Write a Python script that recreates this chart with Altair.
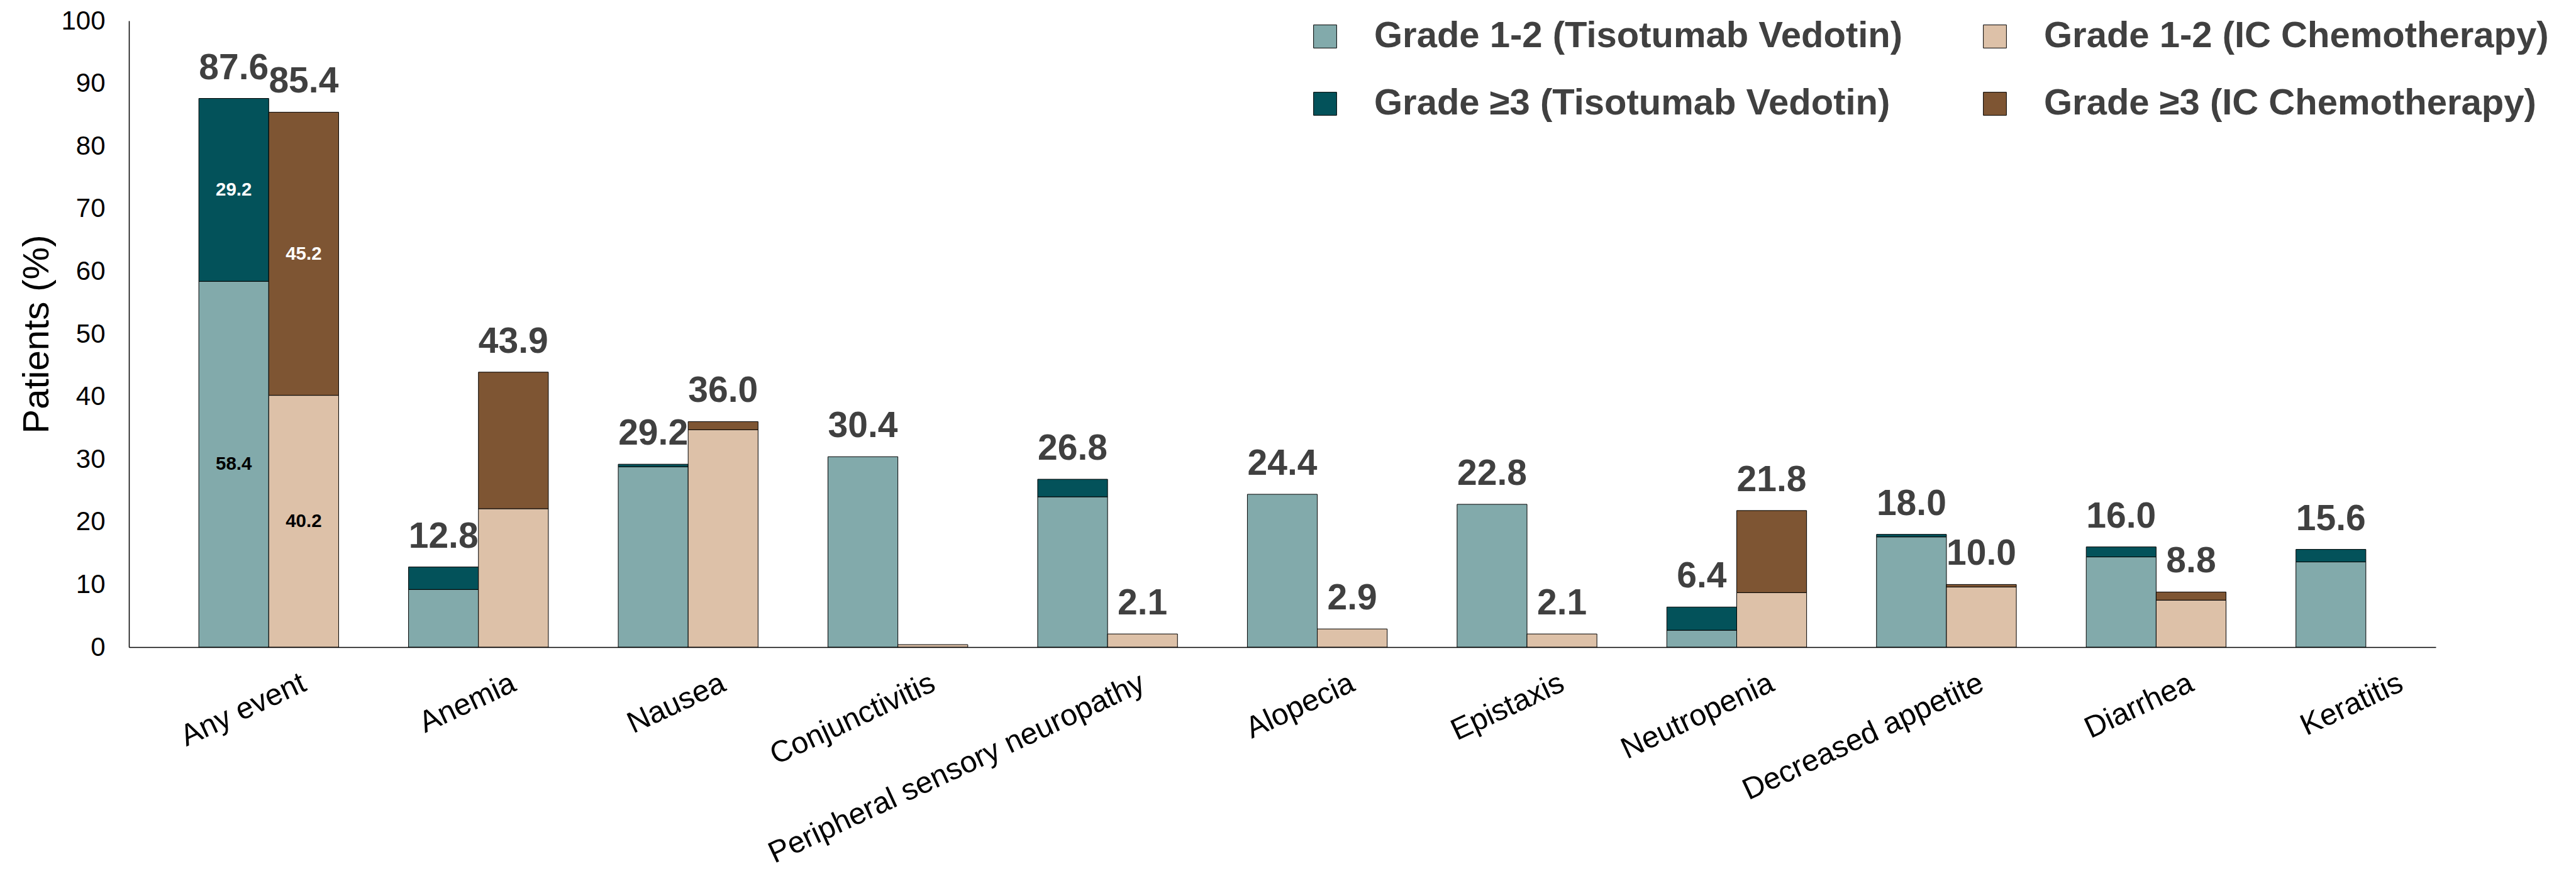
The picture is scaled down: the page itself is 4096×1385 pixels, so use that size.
import altair as alt
import pandas as pd

# Adverse events (% of patients), by grade and treatment arm
categories = [
    "Any event", "Anemia", "Nausea", "Conjunctivitis",
    "Peripheral sensory neuropathy", "Alopecia", "Epistaxis",
    "Neutropenia", "Decreased appetite", "Diarrhea", "Keratitis",
]
tv_grade12 = [58.4, 9.2, 28.8, 30.4, 24.0, 24.4, 22.8, 2.7, 17.6, 14.4, 13.6]
tv_grade3 = [29.2, 3.6, 0.4, 0.0, 2.8, 0.0, 0.0, 3.7, 0.4, 1.6, 2.0]
ic_grade12 = [40.2, 22.1, 34.7, 0.4, 2.1, 2.9, 2.1, 8.7, 9.6, 7.5, 0.0]
ic_grade3 = [45.2, 21.8, 1.3, 0.0, 0.0, 0.0, 0.0, 13.1, 0.4, 1.3, 0.0]
# whether the total above each bar is printed
tv_total_shown = [True] * 11
ic_total_shown = [True, True, True, False, True, True, True, True, True, True, False]
# category whose segments carry their own value labels
segment_labelled = ["Any event"]

# legend fills column by column: Tisotumab Vedotin first, then IC chemotherapy
series_names = [
    "Grade 1-2 (Tisotumab Vedotin)",
    "Grade \u22653 (Tisotumab Vedotin)",
    "Grade 1-2 (IC Chemotherapy)",
    "Grade \u22653 (IC Chemotherapy)",
]
series_colors = ["#82AAAB", "#03525A", "#DDC1A8", "#7E5533"]

FONT = "Liberation Sans"

seg_rows, total_rows = [], []
for i, cat in enumerate(categories):
    for arm, g12, g3, shown in (
        ("TV", tv_grade12[i], tv_grade3[i], tv_total_shown[i]),
        ("IC", ic_grade12[i], ic_grade3[i], ic_total_shown[i]),
    ):
        arm_name = "Tisotumab Vedotin" if arm == "TV" else "IC Chemotherapy"
        bottom = 0.0
        for rank, (grade, v) in enumerate((("1-2", g12), ("\u22653", g3))):
            if v > 0:
                seg_rows.append({
                    "category": cat, "arm": arm, "rank": rank,
                    "series": f"Grade {grade} ({arm_name})",
                    "value": v, "mid": bottom + v / 2,
                    "label": f"{v:.1f}" if cat in segment_labelled else "",
                    "labelColor": "white" if rank == 1 else "black",
                })
            bottom += v
        if shown:
            total_rows.append({"category": cat, "arm": arm,
                               "total": round(bottom, 1),
                               "label": f"{bottom:.1f}"})

segs = pd.DataFrame(seg_rows)
totals = pd.DataFrame(total_rows)

x_enc = alt.X(
    "category:N", sort=categories,
    scale=alt.Scale(paddingInner=0, paddingOuter=0),
    axis=alt.Axis(
        title=None, labelAngle=-25, labelAlign="right", labelBaseline="top",
        labelOffset=102, labelPadding=33, ticks=False, domainColor="black",
        domainWidth=1.5, labelFont=FONT, labelFontSize=48, labelColor="black",
        labelLimit=2000, labelOverlap=False,
    ),
)
xoff_enc = alt.XOffset(
    "arm:N", scale=alt.Scale(domain=["pad", "TV", "IC"], paddingInner=0, paddingOuter=0)
)
y_scale = alt.Scale(domain=[0, 100], nice=False)

bars = alt.Chart(segs).mark_bar(stroke="black", strokeWidth=1).encode(
    x=x_enc,
    xOffset=xoff_enc,
    y=alt.Y(
        "value:Q", stack="zero", scale=y_scale,
        axis=alt.Axis(
            title="Patients (%)", values=list(range(0, 101, 10)), grid=False,
            ticks=False, domainColor="black", domainWidth=1.5, labelFont=FONT,
            labelFontSize=42, labelColor="black", labelPadding=38,
            titleFont=FONT, titleFontSize=58, titleFontWeight="normal",
            titleColor="black", titleX=-129, titleY=498, titleAngle=270,
            titleAlign="center", titleBaseline="alphabetic",
        ),
    ),
    color=alt.Color(
        "series:N",
        scale=alt.Scale(domain=series_names, range=series_colors),
        legend=alt.Legend(
            title=None, orient="none", legendX=1873, legendY=-4, columns=2,
            symbolType="square", symbolSize=1350, symbolStrokeColor="black",
            symbolStrokeWidth=1, symbolOpacity=1, labelFont=FONT,
            labelFontSize=58, labelFontWeight="bold", labelColor="#404040",
            labelOffset=49, labelLimit=2000, columnPadding=117, rowPadding=49,
            padding=0,
        ),
    ),
    order=alt.Order("rank:Q"),
)

segment_text = alt.Chart(segs).mark_text(
    font=FONT, fontSize=29.5, fontWeight="bold", baseline="middle"
).encode(
    x=alt.X("category:N", sort=categories),
    xOffset=alt.XOffset("arm:N"),
    y=alt.Y("mid:Q", scale=y_scale),
    text="label:N",
    color=alt.Color("labelColor:N", scale=None),
)

total_text = alt.Chart(totals).mark_text(
    font=FONT, fontSize=57, fontWeight="bold", color="#404040",
    baseline="alphabetic", dy=-31,
).encode(
    x=alt.X("category:N", sort=categories),
    xOffset=alt.XOffset("arm:N"),
    y=alt.Y("total:Q", scale=y_scale),
    text="label:N",
)

chart = (
    alt.layer(bars, segment_text, total_text)
    .properties(
        width=3668, height=996, autosize="none",
        padding={"left": 205, "top": 33, "right": 223, "bottom": 356},
        background="white",
    )
    .configure_view(strokeWidth=0)
)

chart.save("out.html", embed_options={"renderer": "svg", "actions": False})
